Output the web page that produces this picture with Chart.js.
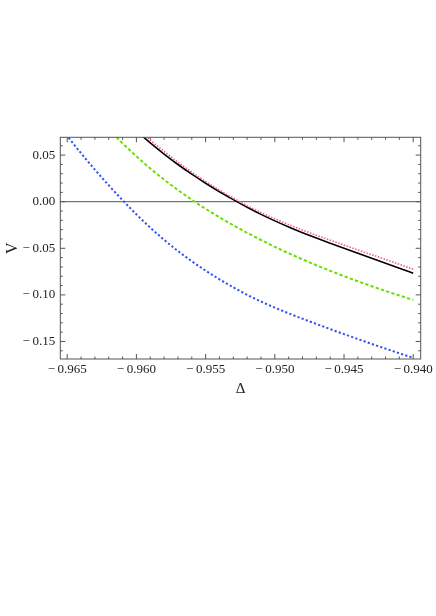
<!DOCTYPE html>
<html>
<head>
<meta charset="utf-8">
<script src="https://cdn.jsdelivr.net/npm/chart.js@4"></script>
<style>
    body { margin: 0; background: #ffffff; }
    canvas { display: block; }
</style>
</head>
<body>
<canvas id="myChart" width="436" height="616"></canvas>
<script>
// values
var deltaBlue = [-0.9655, -0.9650, -0.9640, -0.9630, -0.9620, -0.9610, -0.9600, -0.9590, -0.9580, -0.9570, -0.9560, -0.9550, -0.9540, -0.9530, -0.9520, -0.9510, -0.9500, -0.9490, -0.9480, -0.9470, -0.9460, -0.9450, -0.9440, -0.9430, -0.9420, -0.9410, -0.9400];
var vBlue = [0.0797, 0.0704, 0.0520, 0.0344, 0.0176, 0.0016, -0.0136, -0.0278, -0.0409, -0.0529, -0.0639, -0.0740, -0.0833, -0.0919, -0.0999, -0.1071, -0.1137, -0.1198, -0.1256, -0.1312, -0.1367, -0.1421, -0.1474, -0.1526, -0.1577, -0.1627, -0.1676];

var deltaGreen = [-0.9620, -0.9610, -0.9600, -0.9590, -0.9580, -0.9570, -0.9560, -0.9550, -0.9540, -0.9530, -0.9520, -0.9510, -0.9500, -0.9490, -0.9480, -0.9470, -0.9460, -0.9450, -0.9440, -0.9430, -0.9420, -0.9410, -0.9400];
var vGreen = [0.0777, 0.0627, 0.0487, 0.0357, 0.0237, 0.0125, 0.0021, -0.0076, -0.0167, -0.0253, -0.0334, -0.0411, -0.0484, -0.0553, -0.0619, -0.0682, -0.0742, -0.0799, -0.0854, -0.0907, -0.0958, -0.1007, -0.1054];

var deltaBlack = [-0.9600, -0.9590, -0.9580, -0.9570, -0.9560, -0.9550, -0.9540, -0.9530, -0.9520, -0.9510, -0.9500, -0.9490, -0.9480, -0.9470, -0.9460, -0.9450, -0.9440, -0.9430, -0.9420, -0.9410, -0.9400];
var vBlack = [0.0759, 0.0631, 0.0511, 0.0399, 0.0295, 0.0198, 0.0107, 0.0022, -0.0060, -0.0136, -0.0206, -0.0271, -0.0332, -0.0390, -0.0446, -0.0500, -0.0553, -0.0607, -0.0660, -0.0714, -0.0767];

var deltaRed = [-0.9600, -0.9590, -0.9580, -0.9570, -0.9560, -0.9550, -0.9540, -0.9530, -0.9520, -0.9510, -0.9500, -0.9490, -0.9480, -0.9470, -0.9460, -0.9450, -0.9440, -0.9430, -0.9420, -0.9410, -0.9400];
var vRed = [0.0789, 0.0661, 0.0539, 0.0424, 0.0317, 0.0217, 0.0124, 0.0038, -0.0043, -0.0117, -0.0184, -0.0246, -0.0304, -0.0360, -0.0414, -0.0466, -0.0517, -0.0569, -0.0620, -0.0672, -0.0724];

var xTickValues = [-0.965, -0.960, -0.955, -0.950, -0.945, -0.940];
var xTickLabels = ['\u2212\u20090.965', '\u2212\u20090.960', '\u2212\u20090.955', '\u2212\u20090.950', '\u2212\u20090.945', '\u2212\u20090.940'];
var yTickValues = [-0.15, -0.10, -0.05, 0.00, 0.05];
var yTickLabels = ['\u2212\u20090.15', '\u2212\u20090.10', '\u2212\u20090.05', '0.00', '0.05'];

var xMin = -0.9655, xMax = -0.93946;
var yMin = -0.1688, yMax = 0.0691;

function toPoints(xs, ys) {
    return xs.map(function(x, i) {
        return { x: x, y: ys[i] };
    });
}

// minor ticks: 4 between every pair of major ticks
function minorTicks(majors, min, max) {
    var step = (majors[1] - majors[0]) / 5;
    var list = [];
    for (var k = -5; k <= majors.length * 5 + 5; k++) {
        var v = majors[0] + k * step;
        if (k % 5 !== 0 && v > min && v < max) list.push(v);
    }
    return list;
}

var xMinor = minorTicks(xTickValues, xMin, xMax);
var yMinor = minorTicks(yTickValues, yMin, yMax);

// frame, inward ticks and the V = 0 line
var framePlugin = {
    id: 'frame',
    beforeDatasetsDraw: function(chart) {
        var c = chart.ctx, a = chart.chartArea;
        var y0 = chart.scales.y.getPixelForValue(0);
        c.save();
        c.strokeStyle = '#555555';
        c.lineWidth = 1;
        c.beginPath();
        c.moveTo(a.left, y0);
        c.lineTo(a.right, y0);
        c.stroke();
        c.restore();
    },
    afterDatasetsDraw: function(chart) {
        var c = chart.ctx, a = chart.chartArea;
        var xs = chart.scales.x, ys = chart.scales.y;
        c.save();
        c.strokeStyle = '#555555';
        c.lineWidth = 1;
        c.strokeRect(a.left, a.top, a.right - a.left, a.bottom - a.top);
        c.beginPath();
        function xTick(v, len) {
            var px = xs.getPixelForValue(v);
            c.moveTo(px, a.bottom); c.lineTo(px, a.bottom - len);
            c.moveTo(px, a.top); c.lineTo(px, a.top + len);
        }
        function yTick(v, len) {
            var py = ys.getPixelForValue(v);
            c.moveTo(a.left, py); c.lineTo(a.left + len, py);
            c.moveTo(a.right, py); c.lineTo(a.right - len, py);
        }
        xTickValues.forEach(function(v) { xTick(v, 5); });
        xMinor.forEach(function(v) { xTick(v, 2.5); });
        yTickValues.forEach(function(v) { yTick(v, 5); });
        yMinor.forEach(function(v) { yTick(v, 2.5); });
        c.stroke();
        c.restore();
    }
};

Chart.defaults.font.family = "'Liberation Serif', 'DejaVu Serif', serif";
Chart.defaults.color = '#222222';

var ctx = document.getElementById('myChart').getContext('2d');
var chartData = {
    datasets: [
        {
            label: 'blue',
            data: toPoints(deltaBlue, vBlue),
            borderColor: '#3352f2',
            borderWidth: 2,
            borderDash: [2.2, 2.2],
            pointRadius: 0,
            fill: false,
            showLine: true,
            cubicInterpolationMode: 'monotone'
        },
        {
            label: 'green',
            data: toPoints(deltaGreen, vGreen),
            borderColor: '#6fdc0a',
            borderWidth: 2,
            borderDash: [3.3, 2.2],
            pointRadius: 0,
            fill: false,
            showLine: true,
            cubicInterpolationMode: 'monotone'
        },
        {
            label: 'red',
            data: toPoints(deltaRed, vRed),
            borderColor: '#f25c86',
            borderWidth: 1.6,
            borderDash: [1.5, 1.5],
            pointRadius: 0,
            fill: false,
            showLine: true,
            cubicInterpolationMode: 'monotone'
        },
        {
            label: 'black',
            data: toPoints(deltaBlack, vBlack),
            borderColor: '#000000',
            borderWidth: 1.6,
            pointRadius: 0,
            fill: false,
            showLine: true,
            cubicInterpolationMode: 'monotone'
        }
    ]
};

var myChart = new Chart(ctx, {
    type: 'scatter',
    data: chartData,
    plugins: [framePlugin],
    options: {
        responsive: false,
        animation: false,
        events: [],
        layout: {
            padding: { left: 3, top: 137.3, right: 15.3, bottom: 218.2 }
        },
        plugins: {
            legend: { display: false },
            tooltip: { enabled: false }
        },
        scales: {
            x: {
                type: 'linear',
                min: xMin,
                max: xMax,
                grid: { display: false, drawTicks: false },
                border: { display: false },
                afterBuildTicks: function(scale) {
                    scale.ticks = xTickValues.map(function(v) { return { value: v }; });
                },
                afterFit: function(scale) {
                    scale.height = 38.8;
                    scale.paddingLeft = 0;
                    scale.paddingRight = 0;
                },
                ticks: {
                    autoSkip: false,
                    maxRotation: 0,
                    padding: 3,
                    font: { size: 13 },
                    callback: function(value, index) {
                        return xTickLabels[index];
                    }
                },
                title: {
                    display: true,
                    text: 'Δ',
                    padding: 0,
                    font: { size: 15 }
                }
            },
            y: {
                type: 'linear',
                min: yMin,
                max: yMax,
                grid: { display: false, drawTicks: false },
                border: { display: false },
                afterBuildTicks: function(scale) {
                    scale.ticks = yTickValues.map(function(v) { return { value: v }; });
                },
                afterFit: function(scale) {
                    scale.width = 57.3;
                    scale.paddingTop = 0;
                    scale.paddingBottom = 0;
                },
                ticks: {
                    autoSkip: false,
                    padding: 5,
                    font: { size: 13 },
                    callback: function(value, index) {
                        return yTickLabels[index];
                    }
                },
                title: {
                    display: true,
                    text: 'V',
                    padding: 0,
                    font: { size: 16 }
                }
            }
        }
    }
});
</script>
</body>
</html>
